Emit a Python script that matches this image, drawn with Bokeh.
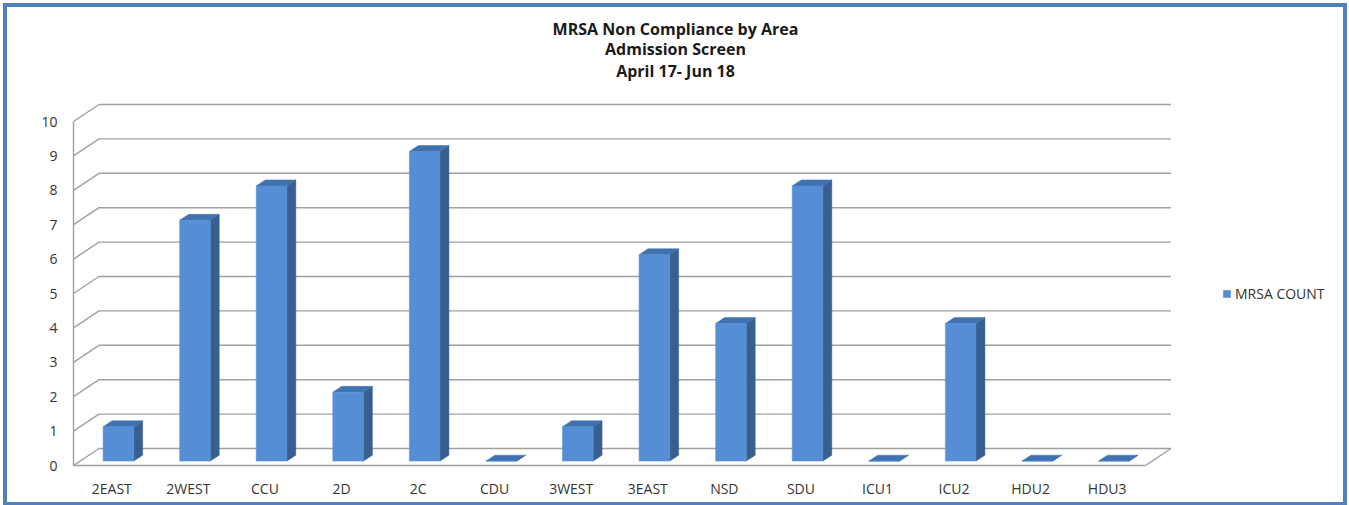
from bokeh.plotting import figure
from bokeh.models import Range1d, FixedTicker, Legend, LegendItem, Label
from bokeh.embed import file_html
from bokeh.resources import INLINE

# ---------------- data ----------------
categories = ["2EAST", "2WEST", "CCU", "2D", "2C", "CDU", "3WEST",
              "3EAST", "NSD", "SDU", "ICU1", "ICU2", "HDU2", "HDU3"]
counts = [1, 7, 8, 2, 9, 0, 1, 6, 4, 8, 0, 4, 0, 0]
y_ticks = [0, 1, 2, 3, 4, 5, 6, 7, 8, 9, 10]
title_lines = ["MRSA Non Compliance by Area", "Admission Screen", "April 17- Jun 18"]
series_name = "MRSA COUNT"

# ---------------- layout constants ----------------
OX, OY = 7, 7                # page offset of the figure (set by CSS margin)
W, H = 1336, 495
ML, MR, MT, MB = 66, 3, 3, 37
PX_PER_CAT = 76.57
PX_PER_UNIT = 34.4
FW = W - ML - MR
FH = H - MT - MB
FRAME_L = OX + ML            # page x of frame left
FRAME_B = OY + H - MB        # page y of frame bottom

DX = 25.5 / PX_PER_CAT      # depth offset of back wall (x units)
DY = 17.0 / PX_PER_UNIT     # depth offset of back wall (value units)
F0, F1 = 0.26, 0.61         # bar depth range (fraction of total depth)
HW = 0.2                    # bar half width

FONT = "Open Sans"
TXT = "#333333"
GRID = "#A0A0A0"
FRONT = "#558ED5"
SIDE = "#385F8F"
TOP = "#4172B0"

p = figure(width=W, height=H,
           x_range=Range1d(0, FW / PX_PER_CAT), y_range=Range1d(0, FH / PX_PER_UNIT),
           output_backend="svg", toolbar_location=None,
           min_border_left=ML, min_border_right=MR, min_border_top=MT, min_border_bottom=MB)
p.styles = {"outline": "4px solid #4F81BD", "margin-left": f"{OX}px", "margin-top": f"{OY}px"}
p.outline_line_color = None
p.grid.visible = False
p.background_fill_color = "white"
p.border_fill_color = "white"

N = len(categories)
ymax = y_ticks[-1]

# ---------------- gridlines (3D walls) ----------------
gx, gy = [], []
for v in y_ticks:
    gx.append([0, DX, N + DX])
    gy.append([v, v + DY, v + DY])
gx.append([N, N + DX])
gy.append([0, DY])
p.multi_line(gx, gy, line_color=GRID, line_width=1.4)

# ---------------- bars ----------------
fl, fr, fb, ft = [], [], [], []
sxs, sys_, txs, tys = [], [], [], []
dd = F1 - F0
for i, v in enumerate(counts):
    cx = i + 0.5
    l = cx - HW + F0 * DX
    r = cx + HW + F0 * DX
    b = F0 * DY
    t = v + F0 * DY
    fl.append(l); fr.append(r); fb.append(b); ft.append(t)
    sxs.append([r, r + dd * DX, r + dd * DX, r])
    sys_.append([b, b + dd * DY, t + dd * DY, t])
    txs.append([l, r, r + dd * DX, l + dd * DX])
    tys.append([t, t, t + dd * DY, t + dd * DY])

p.patches(sxs, sys_, fill_color=SIDE, line_color=SIDE, line_width=0.5)
p.patches(txs, tys, fill_color=TOP, line_color=TOP, line_width=0.5)
front = p.quad(left=fl, right=fr, bottom=fb, top=ft, fill_color=FRONT, line_color=FRONT, line_width=0.5)

# ---------------- axes ----------------
ya = p.yaxis[0]
ya.ticker = FixedTicker(ticks=y_ticks)
ya.bounds = (0, ymax)
ya.axis_line_color = GRID
ya.axis_line_width = 1.4
ya.major_tick_line_color = None
ya.minor_tick_line_color = None
ya.major_tick_out = 0
ya.major_tick_in = 0
ya.major_label_standoff = 16
ya.major_label_text_font = FONT
ya.major_label_text_font_size = "14px"
ya.major_label_text_color = TXT

xa = p.xaxis[0]
xa.ticker = FixedTicker(ticks=[i + 0.5 for i in range(N)])
xa.major_label_overrides = {i + 0.5: c for i, c in enumerate(categories)}
xa.bounds = (0, N)
xa.axis_line_color = GRID
xa.axis_line_width = 1.4
xa.major_tick_line_color = None
xa.minor_tick_line_color = None
xa.major_tick_out = 0
xa.major_tick_in = 0
xa.major_label_standoff = 13
xa.major_label_text_font = FONT
xa.major_label_text_font_size = "14px"
xa.major_label_text_color = TXT

# ---------------- title ----------------
title_y_px = [28, 48, 70]   # page-pixel centres of the title lines
for line, ypx in zip(title_lines, title_y_px):
    p.add_layout(Label(x=(675 - FRAME_L) / PX_PER_CAT, y=(FRAME_B - ypx) / PX_PER_UNIT,
                       text=line, text_align="center", text_baseline="middle",
                       text_font=FONT, text_font_style="bold", text_font_size="16px",
                       text_color="#1a1a1a"))

# ---------------- legend ----------------
legend = Legend(items=[LegendItem(label=series_name, renderers=[front])],
                location=(1222 - FRAME_L, FRAME_B - 303),
                glyph_width=9, glyph_height=9, label_standoff=4,
                padding=0, margin=0, border_line_color=None,
                background_fill_alpha=0,
                label_text_font=FONT, label_text_font_size="14px", label_text_color=TXT)
p.add_layout(legend)

open("out.html", "w").write(file_html(p, INLINE))
